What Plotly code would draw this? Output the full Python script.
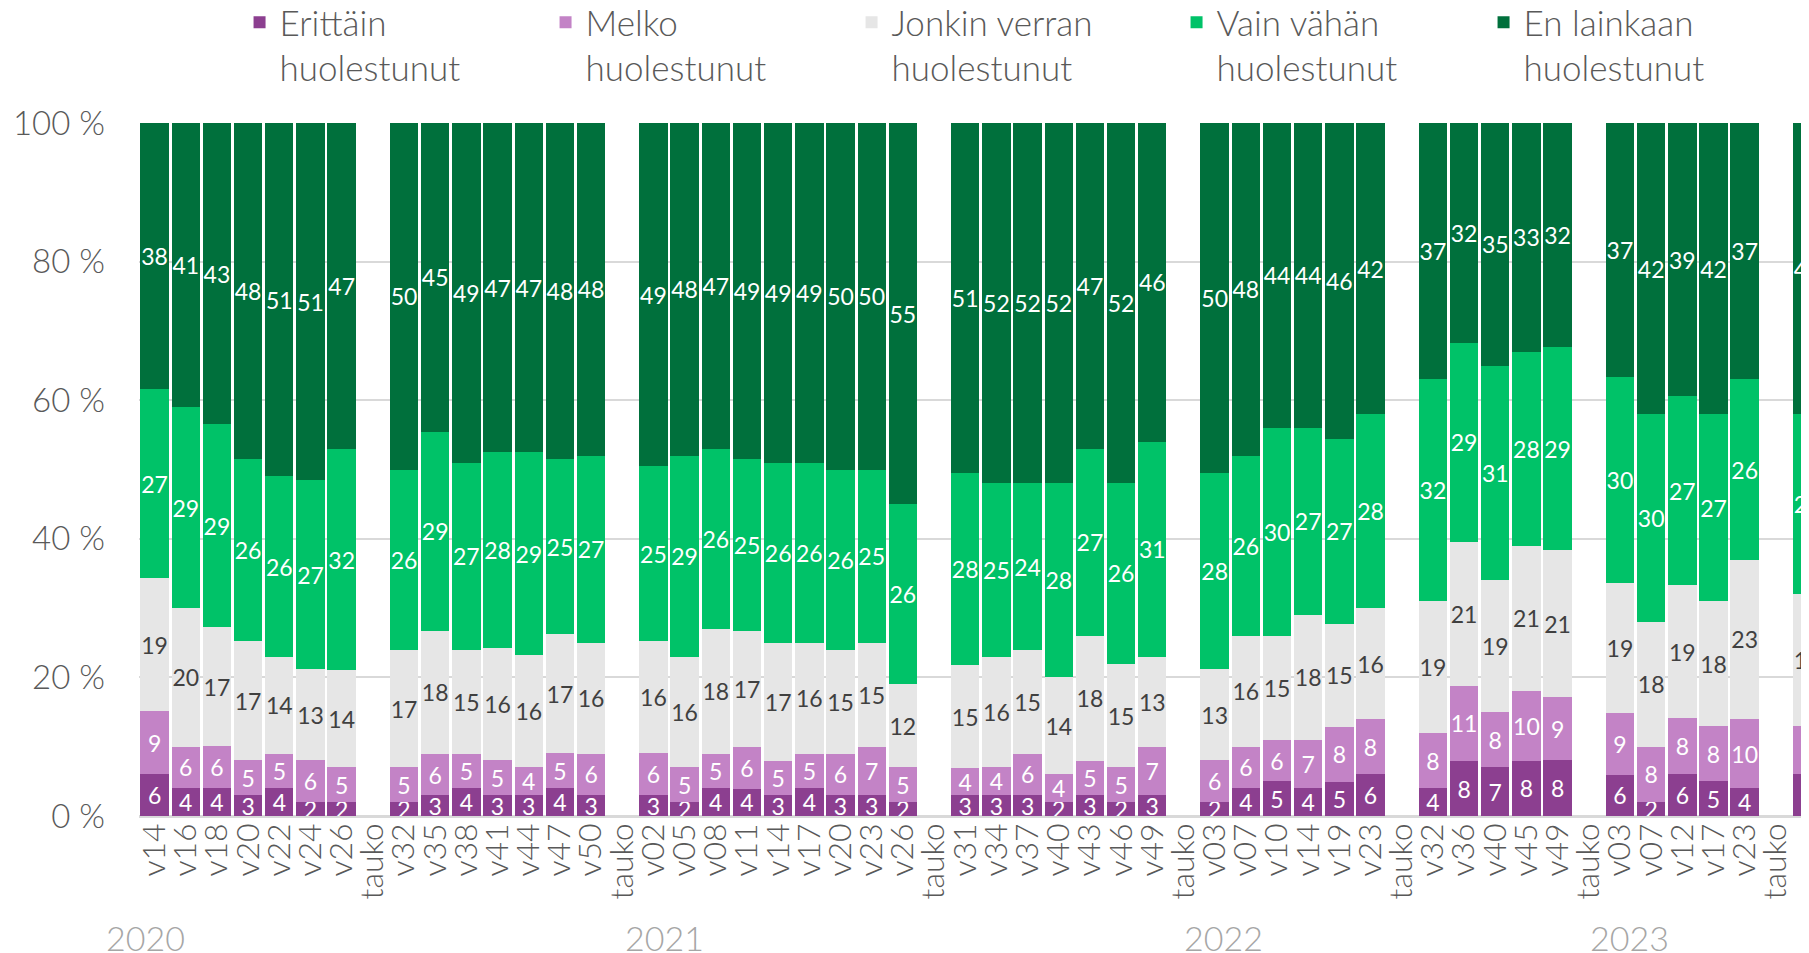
import plotly.graph_objects as go

labels = ["v14","v16","v18","v20","v22","v24","v26","tauko","v32","v35","v38","v41","v44","v47","v50","tauko",
          "v02","v05","v08","v11","v14","v17","v20","v23","v26","tauko","v31","v34","v37","v40","v43","v46","v49","tauko",
          "v03","v07","v10","v14","v19","v23","tauko","v32","v36","v40","v45","v49","tauko",
          "v03","v07","v12","v17","v23","tauko","v22"]

erittain = [6,4,4,3,4,2,2,None,2,3,4,3,3,4,3,None,
            3,2,4,4,3,4,3,3,2,None,3,3,3,2,3,2,3,None,
            2,4,5,4,5,6,None,4,8,7,8,8,None,
            6,2,6,5,4,None,6]
melko = [9,6,6,5,5,6,5,None,5,6,5,5,4,5,6,None,
         6,5,5,6,5,5,6,7,5,None,4,4,6,4,5,5,7,None,
         6,6,6,7,8,8,None,8,11,8,10,9,None,
         9,8,8,8,10,None,7]
jonkin = [19,20,17,17,14,13,14,None,17,18,15,16,16,17,16,None,
          16,16,18,17,17,16,15,15,12,None,15,16,15,14,18,15,13,None,
          13,16,15,18,15,16,None,19,21,19,21,21,None,
          19,18,19,18,23,None,19]
vain = [27,29,29,26,26,27,32,None,26,29,27,28,29,25,27,None,
        25,29,26,25,26,26,26,25,26,None,28,25,24,28,27,26,31,None,
        28,26,30,27,27,28,None,32,29,31,28,29,None,
        30,30,27,27,26,None,26]
en = [38,41,43,48,51,51,47,None,50,45,49,47,47,48,48,None,
      49,48,47,49,49,49,50,50,55,None,51,52,52,52,47,52,46,None,
      50,48,44,44,46,42,None,37,32,35,33,32,None,
      37,42,39,42,37,None,42]

series_names = ["Erittäin<br>huolestunut", "Melko<br>huolestunut", "Jonkin verran<br>huolestunut",
                "Vain vähän<br>huolestunut", "En lainkaan<br>huolestunut"]
series_values = [erittain, melko, jonkin, vain, en]
series_colors = ["#8C3F90", "#C383C6", "#E6E6E6", "#00C268", "#00703C"]
label_colors = ["#FFFFFF", "#FFFFFF", "#404040", "#FFFFFF", "#FFFFFF"]
legend_widths = [261, 261, 280, 262, 262]

y_ticks = [0, 20, 40, 60, 80, 100]
y_ticktext = ["0 %", "20 %", "40 %", "60 %", "80 %", "100 %"]

years = ["2020", "2021", "2022", "2023"]
year_label_x = [-0.3, 16.35, 34.3, 47.3]

FONT = "Lato, 'Open Sans', sans-serif"
x = list(range(len(labels)))

fig = go.Figure()
for name, vals, col, lcol, lw in zip(series_names, series_values, series_colors, label_colors, legend_widths):
    fig.add_trace(go.Bar(
        x=x, y=vals, name=name,
        marker=dict(color=col, line=dict(width=0)),
        text=[("" if v is None else str(v)) for v in vals],
        textposition="inside", insidetextanchor="middle", textangle=0,
        constraintext="none",
        textfont=dict(family=FONT, size=23, color=lcol),
        legendwidth=lw,
        hoverinfo="skip",
    ))

for yr, xp in zip(years, year_label_x):
    fig.add_annotation(x=xp, y=-0.175, xref="x", yref="paper",
                       text=yr, showarrow=False,
                       font=dict(family=FONT, size=34, color="#A6A6A6", weight=300),
                       xanchor="center", yanchor="middle")

fig.update_layout(
    width=1809, height=953,
    barmode="stack", barnorm="percent", bargap=0.09,
    plot_bgcolor="white", paper_bgcolor="white",
    margin=dict(l=131, r=0, t=115, b=145, autoexpand=False),
    font=dict(family=FONT, color="#595959"),
    legend=dict(orientation="h", traceorder="normal", xref="container", yref="paper", x=0.128, y=1.1876,
                xanchor="left", yanchor="top", valign="top",
                entrywidthmode="pixels",
                font=dict(family=FONT, size=35, color="#595959", weight=300),
                bgcolor="rgba(0,0,0,0)"),
    xaxis=dict(range=[-0.5, 53.32], tickmode="array", tickvals=x, ticktext=labels,
               tickangle=-90, showgrid=False, zeroline=False, showline=False, ticks="",
               automargin=False,
               tickfont=dict(family=FONT, size=32, color="#595959", weight=300), fixedrange=True),
    yaxis=dict(range=[0, 100], tickmode="array", tickvals=y_ticks, ticktext=y_ticktext,
               showgrid=True, gridcolor="#D9D9D9", gridwidth=1.5,
               zeroline=True, zerolinecolor="#D9D9D9", zerolinewidth=2.5,
               ticklabelstandoff=33, automargin=False,
               tickfont=dict(family=FONT, size=33, color="#595959", weight=300), fixedrange=True),
    showlegend=True,
)

fig.write_html("out.html", config={"displayModeBar": False})
